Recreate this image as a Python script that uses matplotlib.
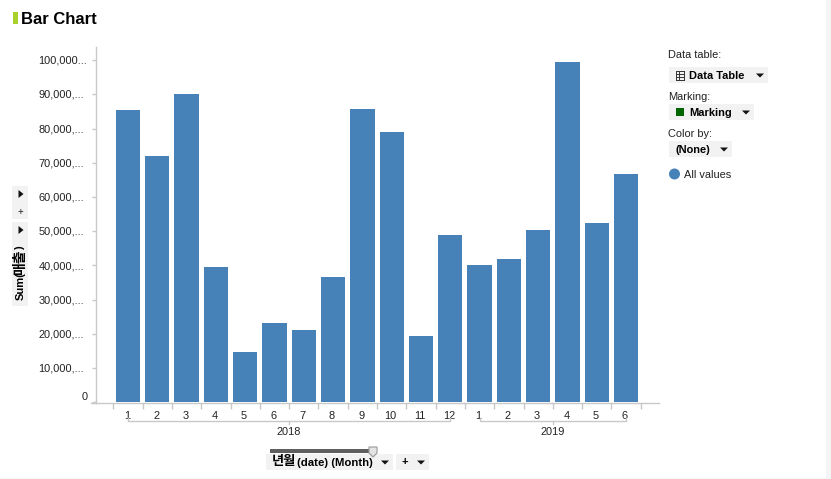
import matplotlib
matplotlib.use("Agg")
import matplotlib.pyplot as plt
from matplotlib.lines import Line2D
from matplotlib.patches import Rectangle, Polygon, Circle
from matplotlib.transforms import ScaledTranslation, blended_transform_factory

months = ["1","2","3","4","5","6","7","8","9","10","11","12","1","2","3","4","5","6"]
values = [85500,72000,90200,39600,14800,23250,21200,36700,85800,79100,19500,49000,
          40200,42000,50400,99400,52500,66800]
y_ticks = [0,10000,20000,30000,40000,50000,60000,70000,80000,90000,100000]
y_labels = ["0","10,000,...","20,000,...","30,000,...","40,000,...","50,000,...",
            "60,000,...","70,000,...","80,000,...","90,000,...","100,000..."]
year_groups = [("2018",0,11),("2019",12,17)]

W,H = 831,479
plt.rcParams['font.family'] = ['Liberation Sans','Noto Sans CJK KR','DejaVu Sans']
fig = plt.figure(figsize=(W/100,H/100),dpi=100,facecolor='white')
def X(x): return x/W
def Y(y): return 1-y/H
GREY='#c8c8c8'; BOX='#f2f2f2'; BLUE='#4682b8'; TXT='#222222'

def rect(x0,y0,x1,y1,c,z=0):
    fig.add_artist(Rectangle((X(x0),Y(y1)),X(x1-x0),Y(y0)-Y(y1),transform=fig.transFigure,fc=c,ec='none',zorder=z))
def line(xs,ys,c=GREY,lw=1.0,z=1):
    fig.add_artist(Line2D([X(v) for v in xs],[Y(v) for v in ys],transform=fig.transFigure,color=c,lw=lw,zorder=z))
def tri(x,y,w=4,h=4,z=3):
    fig.add_artist(Polygon([(X(x-w),Y(y-h/2)),(X(x+w),Y(y-h/2)),(X(x),Y(y+h/2))],transform=fig.transFigure,fc='#111111',ec='none',zorder=z))
def rtri(x,y,w=2.5,h=4,z=3):
    fig.add_artist(Polygon([(X(x-w),Y(y-h)),(X(x+w),Y(y)),(X(x-w),Y(y+h))],transform=fig.transFigure,fc='#111111',ec='none',zorder=z))
def text(x,y,s,size=7.9,weight='normal',ha='left',rot=0,color=TXT,va='center'):
    fig.text(X(x),Y(y),s,fontsize=size,fontweight=weight,ha=ha,va=va,rotation=rot,color=color,zorder=4)

# page edges
rect(826,0,831,479,'#f5f5f5')
rect(0,478,831,479,'#f5f5f5')

# title
rect(13,12,17.5,24,'#a8d22b')
text(21,19.5,"Bar Chart",size=12,weight='bold',color='black')

# axes
L,R,T,B = 95.5,659,47,403
ax = fig.add_axes([X(L),Y(B),X(R-L),Y(T)-Y(B)])
ax.patch.set_alpha(0)
pos = list(range(len(values)))
ax.bar(pos,values,width=0.83,color=BLUE)
ax.set_xlim((L-128)/29.3,(R-128)/29.3)
ax.set_ylim(-150,103800)
for s in ['top','right']: ax.spines[s].set_visible(False)
for s in ['left','bottom']:
    ax.spines[s].set_color(GREY); ax.spines[s].set_linewidth(1.0)
ax.set_yticks(y_ticks)
ax.set_yticklabels(y_labels,fontsize=7.9,color=TXT,ha='left')
ax.tick_params(axis='y',length=3.2,width=1,color=GREY,pad=0)
dpi=fig.dpi_scale_trans
for lab,txt in zip(ax.get_yticklabels(),y_labels):
    if txt=="0":
        lab.set_ha('right')
        lab.set_transform(lab.get_transform()+ScaledTranslation(-3.5/100,6/100,dpi))
    else:
        lab.set_transform(lab.get_transform()+ScaledTranslation(-(91-38.5)/100,0.4/100,dpi))
ax.set_xticks(pos)
ax.set_xticklabels(months,fontsize=7.9,color=TXT)
ax.set_xticks([p-0.5 for p in pos]+[pos[-1]+0.5],minor=True)
ax.tick_params(axis='x',which='major',length=0,pad=6)
ax.tick_params(axis='x',which='minor',length=4.5,width=1,color=GREY)
for lab in ax.get_xticklabels():
    lab.set_transform(lab.get_transform()+ScaledTranslation(-1.2/100,0,dpi))
line([91,L],[B,B])

# year brackets
tr = blended_transform_factory(ax.transData,fig.transFigure)
for yr,a,b in year_groups:
    mid=(a+b)/2
    ax.add_line(Line2D([a,a,b,b],[Y(418),Y(421),Y(421),Y(418)],transform=tr,color=GREY,lw=1,clip_on=False))
    ax.add_line(Line2D([mid,mid],[Y(421),Y(424)],transform=tr,color=GREY,lw=1,clip_on=False))
    ax.text(mid,Y(432),yr,transform=tr,fontsize=7.9,ha='center',va='center',color=TXT)

# left widgets
rect(12,186,28,219,BOX)
rect(12,222,28,306,BOX)
rtri(21,194); rtri(21,230)
text(20.5,212,"+",size=7,ha='center')
text(20.5,300.5,"Sum(",size=8,weight='bold',ha='center',rot=90,color='black',va='bottom')
text(20,275,"매출",size=10,weight='bold',ha='center',rot=90,color='black',va='bottom')
text(20.5,250,")",size=8,weight='bold',ha='center',rot=90,color='black',va='bottom')

# bottom widgets
rect(266,454,393,470,BOX)
rect(396,454,429,470,BOX)
rect(270,449,369,452.5,'#5f5f5f')
fig.add_artist(Polygon([(X(369),Y(447)),(X(377),Y(447)),(X(377),Y(453)),(X(373),Y(457)),(X(369),Y(453))],
    transform=fig.transFigure,fc='#e4e4e4',ec='#999999',lw=0.8,zorder=3))
text(272,461.5,"년월",size=9.5,weight='bold',color='black')
text(297,462.5,"(date) (Month)",size=8.2,weight='bold',color='black')
tri(385,462.5); tri(421,462.5)
text(405,462.5,"+",size=8,weight='bold',ha='center',color='black')

# right panel
text(668,55,"Data table:")
rect(669,67,768,83,BOX)
for v in [71,74,77]:
    line([676,684],[v,v],c='#333333',lw=0.7,z=3)
line([676,684],[79.5,79.5],c='#333333',lw=0.7,z=3)
for v in [676,679,684]:
    line([v,v],[71,79.5],c='#333333',lw=0.7,z=3)
text(689,76,"Data Table",weight='bold',color='black')
tri(760,75.5)
text(668,97,"Marking:")
rect(669,104,754,120,BOX)
rect(676,108,684,116,'#006400',z=3)
text(689,113,"Marking",weight='bold',color='black')
tri(746,112.5)
text(668,134,"Color by:")
rect(669,141,732,157,BOX)
text(675,150,"(None)",weight='bold',color='black')
tri(724,149.5)
fig.add_artist(Circle((674.5,479-174),5.5,transform=None,fc=BLUE,ec='none',zorder=3))
text(684,175,"All values")

fig.savefig("out.png",dpi=100)
